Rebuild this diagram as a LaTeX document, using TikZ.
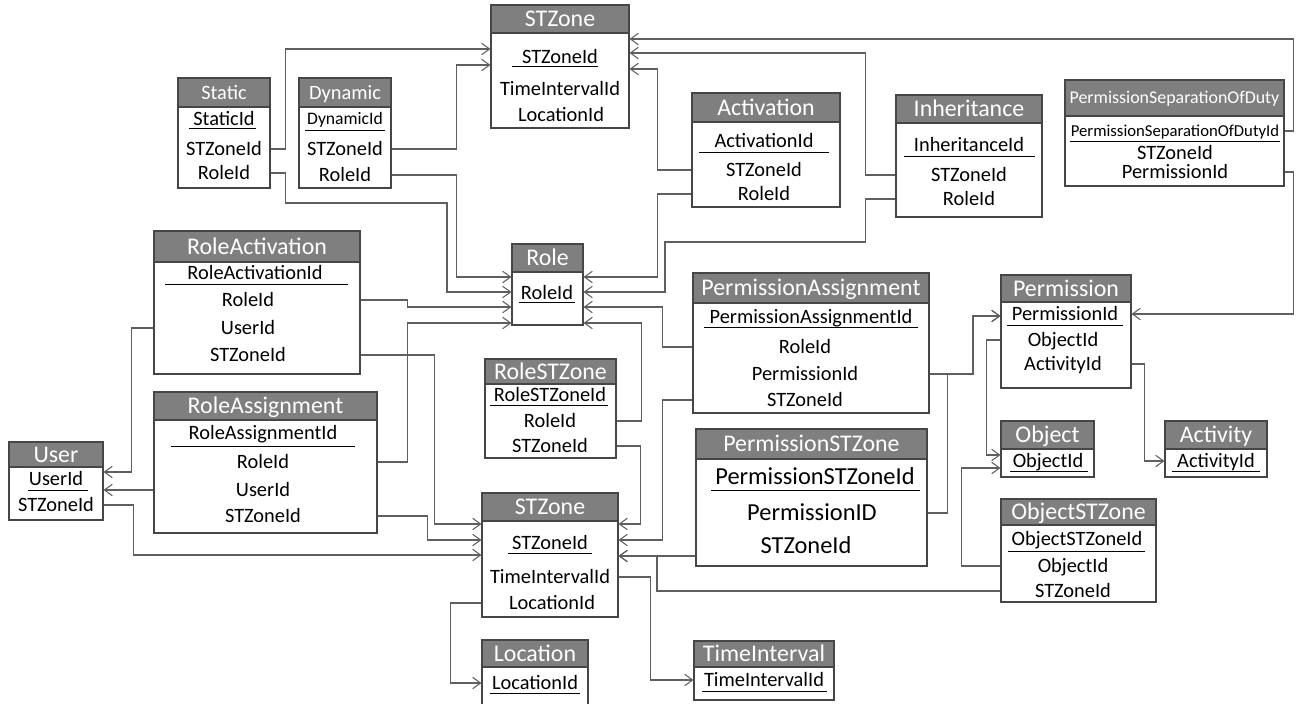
\documentclass[tikz,border=0pt]{standalone}
\usepackage{fontspec}
\setmainfont{Carlito}
\usepackage{tikz}
\usetikzlibrary{arrows.meta,positioning,fit,calc}
\definecolor{hdrgray}{RGB}{127,127,127}
\definecolor{boxline}{RGB}{70,70,70}
\definecolor{linkgray}{RGB}{95,95,95}
\tikzset{
  tbl/.style={draw=boxline, line width=0.6pt, fill=white, inner sep=0pt},
  hdr/.style={draw=boxline, line width=0.6pt, fill=hdrgray, inner sep=0pt},
  htxt/.style={text=white, inner sep=0pt, font=\fontsize{13.6}{15}\selectfont, text height=8.8pt, text depth=0pt},
  htxtsmall/.style={htxt, font=\fontsize{11.6}{13}\selectfont, text height=7.5pt},
  htxttiny/.style={htxt, font=\fontsize{10.2}{12}\selectfont, text height=6.6pt},
  row/.style={inner sep=0pt, font=\fontsize{11.6}{13}\selectfont, text height=7.5pt, text depth=0pt},
  rowbig/.style={row, font=\fontsize{13.9}{16}\selectfont, text height=9pt},
  rowsmall/.style={row, font=\fontsize{10}{12}\selectfont, text height=6.5pt},
  rowtiny/.style={row, font=\fontsize{9.5}{11}\selectfont, text height=6.2pt},
  uline/.style={draw=black, line width=0.5pt},
  link/.style={draw=linkgray, line width=0.6pt, -{Straight Barb[length=4.5pt,width=6.5pt]}}
}
\begin{document}
\begin{tikzpicture}[x=0.2mm,y=-0.2mm]
\useasboundingbox (0,0) rectangle (1296,704);

% STZone (top)
\node[tbl, fit={(491,33) (629,128)}] (stzA-b) {};
\node[hdr, fit={(491,5) (629,33)}, label={[htxt]center:STZone}] (stzA) {};
\node[row] (stzA-1) at (560,57) {STZoneId};
\draw[uline] (512,66) -- (598,66);
\node[row] (stzA-2) at (560,89) {TimeIntervalId};
\node[row] (stzA-3) at (561,115) {LocationId};

% Static
\node[tbl, fit={(178,107) (270,188)}] (sta-b) {};
\node[hdr, fit={(178,78) (270,107)}, label={[htxtsmall]center:Static}] (sta) {};
\node[row] (sta-1) at (224,119) {StaticId};
\draw[uline] (189,128) -- (256,128);
\node[row] (sta-2) at (224,149) {STZoneId};
\node[row] (sta-3) at (224,173) {RoleId};

% Dynamic
\node[tbl, fit={(299,107) (391,188)}] (dyn-b) {};
\node[hdr, fit={(299,78) (391,107)}, label={[htxtsmall]center:Dynamic}] (dyn) {};
\node[rowsmall] (dyn-1) at (345,119) {DynamicId};
\draw[uline] (305,130) -- (385,130);
\node[row] (dyn-2) at (345,149) {STZoneId};
\node[row] (dyn-3) at (345,175) {RoleId};

% Activation
\node[tbl, fit={(692,122) (840,207)}] (act-b) {};
\node[hdr, fit={(692,93) (840,122)}, label={[htxt]center:Activation}] (act) {};
\node[row] (act-1) at (764,141) {ActivationId};
\draw[uline] (699,152) -- (829,152);
\node[row] (act-2) at (764,170) {STZoneId};
\node[row] (act-3) at (764,194) {RoleId};

% Inheritance
\node[tbl, fit={(896,123) (1042,217)}] (inh-b) {};
\node[hdr, fit={(896,95) (1042,123)}, label={[htxt]center:Inheritance}] (inh) {};
\node[row] (inh-1) at (969,145) {InheritanceId};
\draw[uline] (904,156) -- (1035,156);
\node[row] (inh-2) at (969,175) {STZoneId};
\node[row] (inh-3) at (969,199) {RoleId};

% PermissionSeparationOfDuty
\node[tbl, fit={(1065,116) (1284,186)}] (psod-b) {};
\node[hdr, fit={(1065,80) (1284,116)}, label={[htxttiny]center:PermissionSeparationOfDuty}] (psod) {};
\node[rowtiny] (psod-1) at (1175,131) {PermissionSeparationOfDutyId};
\draw[uline] (1070,141) -- (1280,141);
\node[row] (psod-2) at (1175,153) {STZoneId};
\node[row] (psod-3) at (1175,172) {PermissionId};

% RoleActivation
\node[tbl, fit={(154,262) (360,374)}] (ract-b) {};
\node[hdr, fit={(154,231) (360,262)}, label={[htxt]center:RoleActivation}] (ract) {};
\node[row] (ract-1) at (255,273) {RoleActivationId};
\draw[uline] (165,284) -- (348,284);
\node[row] (ract-2) at (248,300) {RoleId};
\node[row] (ract-3) at (248,328) {UserId};
\node[row] (ract-4) at (248,355) {STZoneId};

% Role
\node[tbl, fit={(512,272) (583,325)}] (role-b) {};
\node[hdr, fit={(512,244) (583,272)}, label={[htxt]center:Role}] (role) {};
\node[row] (role-1) at (547,293) {RoleId};
\draw[uline] (519,302) -- (575,302);

% PermissionAssignment
\node[tbl, fit={(693,303) (929,413)}] (pa-b) {};
\node[hdr, fit={(693,273) (929,303)}, label={[htxt]center:PermissionAssignment}] (pa) {};
\node[row] (pa-1) at (811,317) {PermissionAssignmentId};
\draw[uline] (704,327) -- (918,327);
\node[row] (pa-2) at (805,347) {RoleId};
\node[row] (pa-3) at (805,374) {PermissionId};
\node[row] (pa-4) at (805,400) {STZoneId};

% Permission
\node[tbl, fit={(1001,302) (1131,388)}] (perm-b) {};
\node[hdr, fit={(1001,275) (1131,302)}, label={[htxt]center:Permission}] (perm) {};
\node[row] (perm-1) at (1065,314) {PermissionId};
\draw[uline] (1007,325) -- (1123,325);
\node[row] (perm-2) at (1063,340) {ObjectId};
\node[row] (perm-3) at (1063,364) {ActivityId};

% RoleSTZone
\node[tbl, fit={(485,384) (616,458)}] (rstz-b) {};
\node[hdr, fit={(485,359) (616,384)}, label={[htxt]center:RoleSTZone}] (rstz) {};
\node[row] (rstz-1) at (550,395) {RoleSTZoneId};
\draw[uline] (490,405) -- (608,405);
\node[row] (rstz-2) at (550,421) {RoleId};
\node[row] (rstz-3) at (550,446) {STZoneId};

% RoleAssignment
\node[tbl, fit={(154,420) (377,533)}] (rasg-b) {};
\node[hdr, fit={(154,392) (377,420)}, label={[htxt]center:RoleAssignment}] (rasg) {};
\node[row] (rasg-1) at (263,433) {RoleAssignmentId};
\draw[uline] (171,446) -- (355,446);
\node[row] (rasg-2) at (263,462) {RoleId};
\node[row] (rasg-3) at (263,490) {UserId};
\node[row] (rasg-4) at (263,516) {STZoneId};

% User
\node[tbl, fit={(9,467) (103,520)}] (usr-b) {};
\node[hdr, fit={(9,442) (103,467)}, label={[htxt]center:User}] (usr) {};
\node[row] (usr-1) at (56,479) {UserId};
\draw[uline] (28,490) -- (88,490);
\node[row] (usr-2) at (56,505) {STZoneId};

% PermissionSTZone
\node[tbl, fit={(696,459) (927,566)}] (pstz-b) {};
\node[hdr, fit={(696,429) (927,459)}, label={[htxt]center:PermissionSTZone}] (pstz) {};
\node[rowbig] (pstz-1) at (815,477) {PermissionSTZoneId};
\draw[uline] (711,490) -- (920,490);
\node[rowbig] (pstz-2) at (812,513) {PermissionID};
\node[rowbig] (pstz-3) at (806,546) {STZoneId};

% STZone (bottom)
\node[tbl, fit={(482,521) (618,617)}] (stzB-b) {};
\node[hdr, fit={(482,493) (618,521)}, label={[htxt]center:STZone}] (stzB) {};
\node[row] (stzB-1) at (550,543) {STZoneId};
\draw[uline] (508,553) -- (592,553);
\node[row] (stzB-2) at (550,577) {TimeIntervalId};
\node[row] (stzB-3) at (552,603) {LocationId};

% Object
\node[tbl, fit={(1001,449) (1094,477)}] (obj-b) {};
\node[hdr, fit={(1001,421) (1094,449)}, label={[htxt]center:Object}] (obj) {};
\node[row] (obj-1) at (1048,461) {ObjectId};
\draw[uline] (1010,471) -- (1088,471);

% Activity
\node[tbl, fit={(1165,449) (1267,477)}] (acty-b) {};
\node[hdr, fit={(1165,421) (1267,449)}, label={[htxt]center:Activity}] (acty) {};
\node[row] (acty-1) at (1216,461) {ActivityId};
\draw[uline] (1172,471) -- (1260,471);

% ObjectSTZone
\node[tbl, fit={(1001,525) (1156,602)}] (ostz-b) {};
\node[hdr, fit={(1001,499) (1156,525)}, label={[htxt]center:ObjectSTZone}] (ostz) {};
\node[row] (ostz-1) at (1077,539) {ObjectSTZoneId};
\draw[uline] (1008,551) -- (1145,551);
\node[row] (ostz-2) at (1073,566) {ObjectId};
\node[row] (ostz-3) at (1073,591) {STZoneId};

% Location
\node[tbl, fit={(482,667) (588,712)}] (loc-b) {};
\node[hdr, fit={(482,640) (588,667)}, label={[htxt]center:Location}] (loc) {};
\node[row] (loc-1) at (535,683) {LocationId};
\draw[uline] (490,693) -- (580,693);

% TimeInterval
\node[tbl, fit={(694,667) (834,700)}] (ti-b) {};
\node[hdr, fit={(694,641) (834,667)}, label={[htxt]center:TimeInterval}] (ti) {};
\node[row] (ti-1) at (764,680) {TimeIntervalId};
\draw[uline] (702,691) -- (827,691);

% connectors
\draw[link] (sta-b.east |- sta-2) -- ++(15,0) |- (stzA-b.west |- 0,49);
\draw[link] (dyn-b.east |- dyn-2) -- ++(65,0) |- (stzA-b.west |- 0,65);
\draw[link] (sta-b.east |- sta-3) -- ++(15,0) |- (447,203) |- (role-b.west |- 0,292);
\draw[link] (dyn-b.east |- dyn-3) -- ++(65,0) |- (role-b.west |- 0,277);
\draw[link] (act-b.west |- act-2) -- ++(-34,0) |- (stzA-b.east |- 0,69);
\draw[link] (act-b.west |- act-3) -- ++(-34,0) |- (role-b.east |- 0,277);
\draw[link] (inh-b.west |- inh-2) -- ++(-30,0) |- (stzA-b.east |- 0,53);
\draw[link] (inh-b.west |- inh-3) -- ++(-30,0) |- (665,242) |- (role-b.east |- 0,292);
\draw[link] (psod-b.east |- psod-1) -- ++(9,0) |- (stzA-b.east |- 0,39);
\draw[link] (psod-b.east |- psod-3) -- ++(9,0) |- (perm-b.east |- perm-1);
\draw[link] (pa-b.west |- pa-2) -- ++(-30,0) |- (role-b.east |- 0,307);
\draw[link] (rstz-b.east |- rstz-2) -- ++(25,0) |- (role-b.east |- 0,323);
\draw[link] (ract-b.east |- ract-2) -- ++(47,0) |- (role-b.west |- 0,307);
\draw[link] (rasg-b.east |- rasg-2) -- ++(30,0) |- (role-b.west |- 0,323);
\draw[link] (pa-b.east |- pa-3) -- ++(44,0) |- (perm-b.west |- 0,316);
\draw[link] (pstz-b.east |- pstz-2) -- ++(20,0) |- (973,374) |- (perm-b.west |- 0,316);
\draw[link] (perm-b.west |- perm-2) -- ++(-14,0) |- (obj-b.west |- 0,455);
\draw[link] (ostz-b.west |- ostz-2) -- ++(-39,0) |- (obj-b.west |- 0,468);
\draw[link] (perm-b.east |- perm-3) -- ++(13,0) |- (acty-b.west |- acty-1);
\draw[link] (ract-b.west |- ract-3) -- ++(-22,0) |- (usr-b.east |- 0,472);
\draw[link] (rasg-b.west |- rasg-3) -- (usr-b.east |- rasg-3);
\draw[link] (ract-b.east |- ract-4) -- ++(74,0) |- (stzB-b.west |- 0,524);
\draw[link] (rasg-b.east |- rasg-4) -- ++(50,0) |- (stzB-b.west |- 0,540);
\draw[link] (usr-b.east |- usr-2) -- ++(30,0) |- (stzB-b.west |- 0,555);
\draw[link] (rstz-b.east |- rstz-3) -- ++(24,0) |- (stzB-b.east |- 0,524);
\draw[link] (pa-b.west |- pa-4) -- ++(-30,0) |- (stzB-b.east |- 0,540);
\draw[link] (pstz-b.west |- 0,556) -- (stzB-b.east |- 0,556);
\draw[link] (ostz-b.west |- ostz-3) -| (657,556) -- (stzB-b.east |- 0,556);
\draw[link] (stzB-b.west |- stzB-3) -- ++(-31,0) |- (loc-b.west |- loc-1);
\draw[link] (stzB-b.east |- stzB-2) -- ++(32,0) |- (ti-b.west |- ti-1);
\end{tikzpicture}
\end{document}
